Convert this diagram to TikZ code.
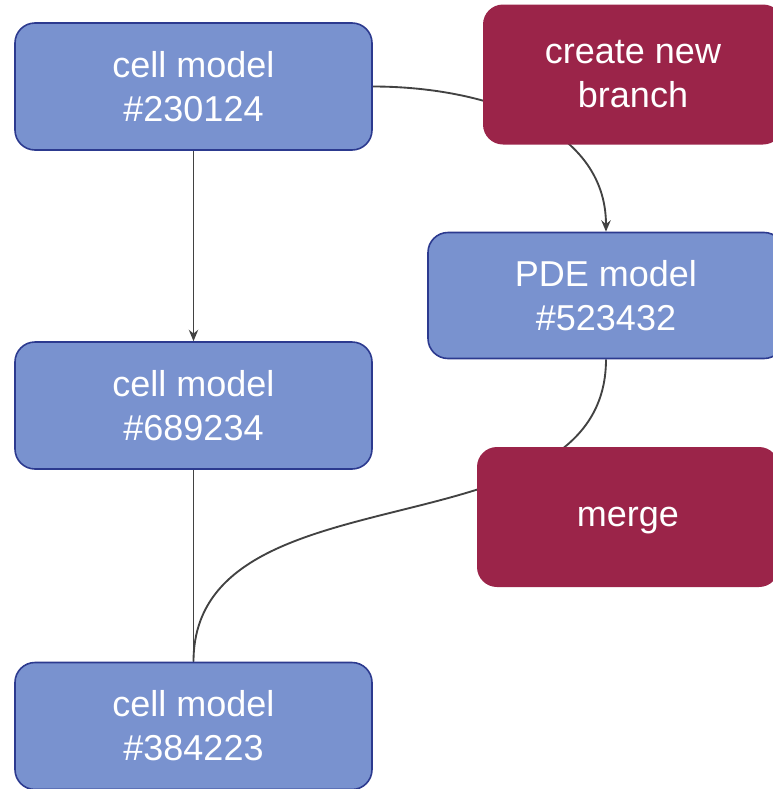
\documentclass[tikz,border=0pt]{standalone}
\usepackage{fontspec}
\setmainfont{Liberation Sans}
\usetikzlibrary{arrows.meta}
\pgfdeclarelayer{background}
\pgfsetlayers{background,main}
\definecolor{cellblue}{RGB}{121,146,207}
\definecolor{celledge}{RGB}{44,58,143}
\definecolor{actred}{RGB}{155,36,73}
\definecolor{wire}{RGB}{66,66,66}
\begin{document}
\begin{tikzpicture}[x=0.75pt, y=-0.75pt,
    cellbox/.style={draw=celledge, line width=1.2pt, fill=cellblue, rounded corners=15pt,
      minimum width=267.75pt, minimum height=95.25pt, align=center, text=white,
      font=\fontsize{27}{33}\selectfont},
    actbox/.style={fill=actred, rounded corners=15pt, minimum width=225pt, minimum height=105pt,
      align=center, text=white, font=\fontsize{27}{33}\selectfont},
    wireline/.style={draw=wire, line width=1.4pt},
    tip/.style={-{Stealth[length=8.5pt, width=7pt]}}]
    \clip (0, 0) rectangle (773, 789);

    \node[cellbox] (c1) at (193.5, 86.5) {cell model\\\#230124};
    \node[cellbox] (c2) at (193.5, 405.5) {cell model\\\#689234};
    \node[cellbox] (c3) at (193.5, 726) {cell model\\\#384223};
    \node[cellbox, minimum width=267pt, minimum height=94.5pt] (pde) at (606, 295.5) {PDE model\\\#523432};
    \node[actbox] (branch) at (633, 74.5) {create new\\branch};
    \node[actbox, minimum width=226.5pt, text depth=0pt] (merge) at (628, 517) {merge};

    \begin{pgfonlayer}{background}
      \draw[wireline, tip] (c1.south) -- (c2.north);
      \draw[wireline] (c2.south) -- (c3.north);
      \draw[wireline, tip] (c1.east) to[out=0, in=90] (pde.north);
      \draw[wireline] (pde.south) to[out=-90, in=90] (c3.north);
    \end{pgfonlayer}
\end{tikzpicture}
\end{document}
